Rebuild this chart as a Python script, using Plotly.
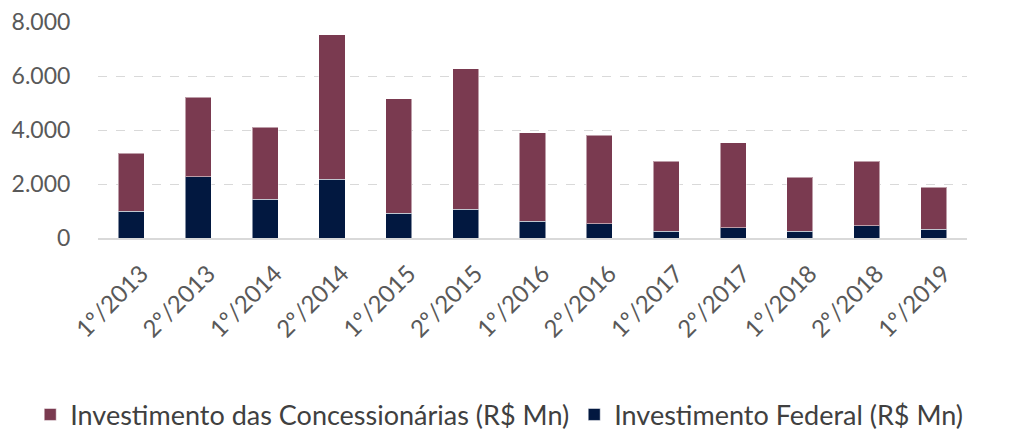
import plotly.graph_objects as go

periodos = [
    "1º/2013", "2º/2013", "1º/2014", "2º/2014", "1º/2015", "2º/2015", "1º/2016",
    "2º/2016", "1º/2017", "2º/2017", "1º/2018", "2º/2018", "1º/2019",
]
investimento_federal = [990, 2260, 1430, 2170, 910, 1060, 620, 530, 250, 380, 250, 460, 320]
investimento_concessionarias = [2150, 2960, 2680, 5360, 4250, 5200, 3270, 3280, 2590, 3140, 2000, 2380, 1560]
y_ticks = [0, 2000, 4000, 6000, 8000]

COR_FEDERAL = "#021840"
COR_CONCESSIONARIAS = "#7a3a50"
FONTE = "Lato"

fig = go.Figure()

# Federal na base da pilha
fig.add_trace(
    go.Bar(
        x=periodos,
        y=investimento_federal,
        name="Investimento Federal (R$ Mn)",
        marker_color=COR_FEDERAL,
        marker_line=dict(color="rgba(255,255,255,0.5)", width=1),
    )
)

fig.add_trace(
    go.Bar(
        x=periodos,
        y=investimento_concessionarias,
        name="Investimento das Concessionárias (R$ Mn)",
        marker_color=COR_CONCESSIONARIAS,
        marker_line=dict(color="rgba(255,255,255,0.5)", width=1),
    )
)

# a página tem 8px de margem no body: compensado nas margens
fig.update_layout(
    barmode="stack",
    bargap=0.61,
    width=1009,
    height=439,
    margin=dict(l=90, r=50, t=14, b=209, autoexpand=False),
    paper_bgcolor="white",
    plot_bgcolor="white",
    separators=",.",
    font=dict(family=FONTE, size=23, color="#595959"),
    showlegend=True,
    legend=dict(
        orientation="h",
        traceorder="reversed",
        x=-0.078,
        xanchor="left",
        y=-0.819,
        yanchor="middle",
        font=dict(family=FONTE, size=27, color="#404040"),
        itemwidth=30,
    ),
)

fig.update_yaxes(
    range=[0, 8000],
    tickvals=y_ticks,
    tickformat=",d",
    automargin=False,
    ticklabeloverflow="allow",
    showgrid=True,
    gridcolor="#d9d9d9",
    gridwidth=1,
    griddash="dash",
    zeroline=False,
    ticks="outside",
    ticklen=22,
    tickcolor="rgba(0,0,0,0)",
    tickfont=dict(family=FONTE, size=23, color="#595959"),
)

fig.update_xaxes(
    tickangle=-45,
    automargin=False,
    showline=True,
    linecolor="#d9d9d9",
    linewidth=2,
    showgrid=False,
    ticks="outside",
    ticklen=10,
    ticklabelshift=10,
    tickcolor="rgba(0,0,0,0)",
    tickfont=dict(family=FONTE, size=24, color="#595959"),
)

fig.write_html("out.html")
